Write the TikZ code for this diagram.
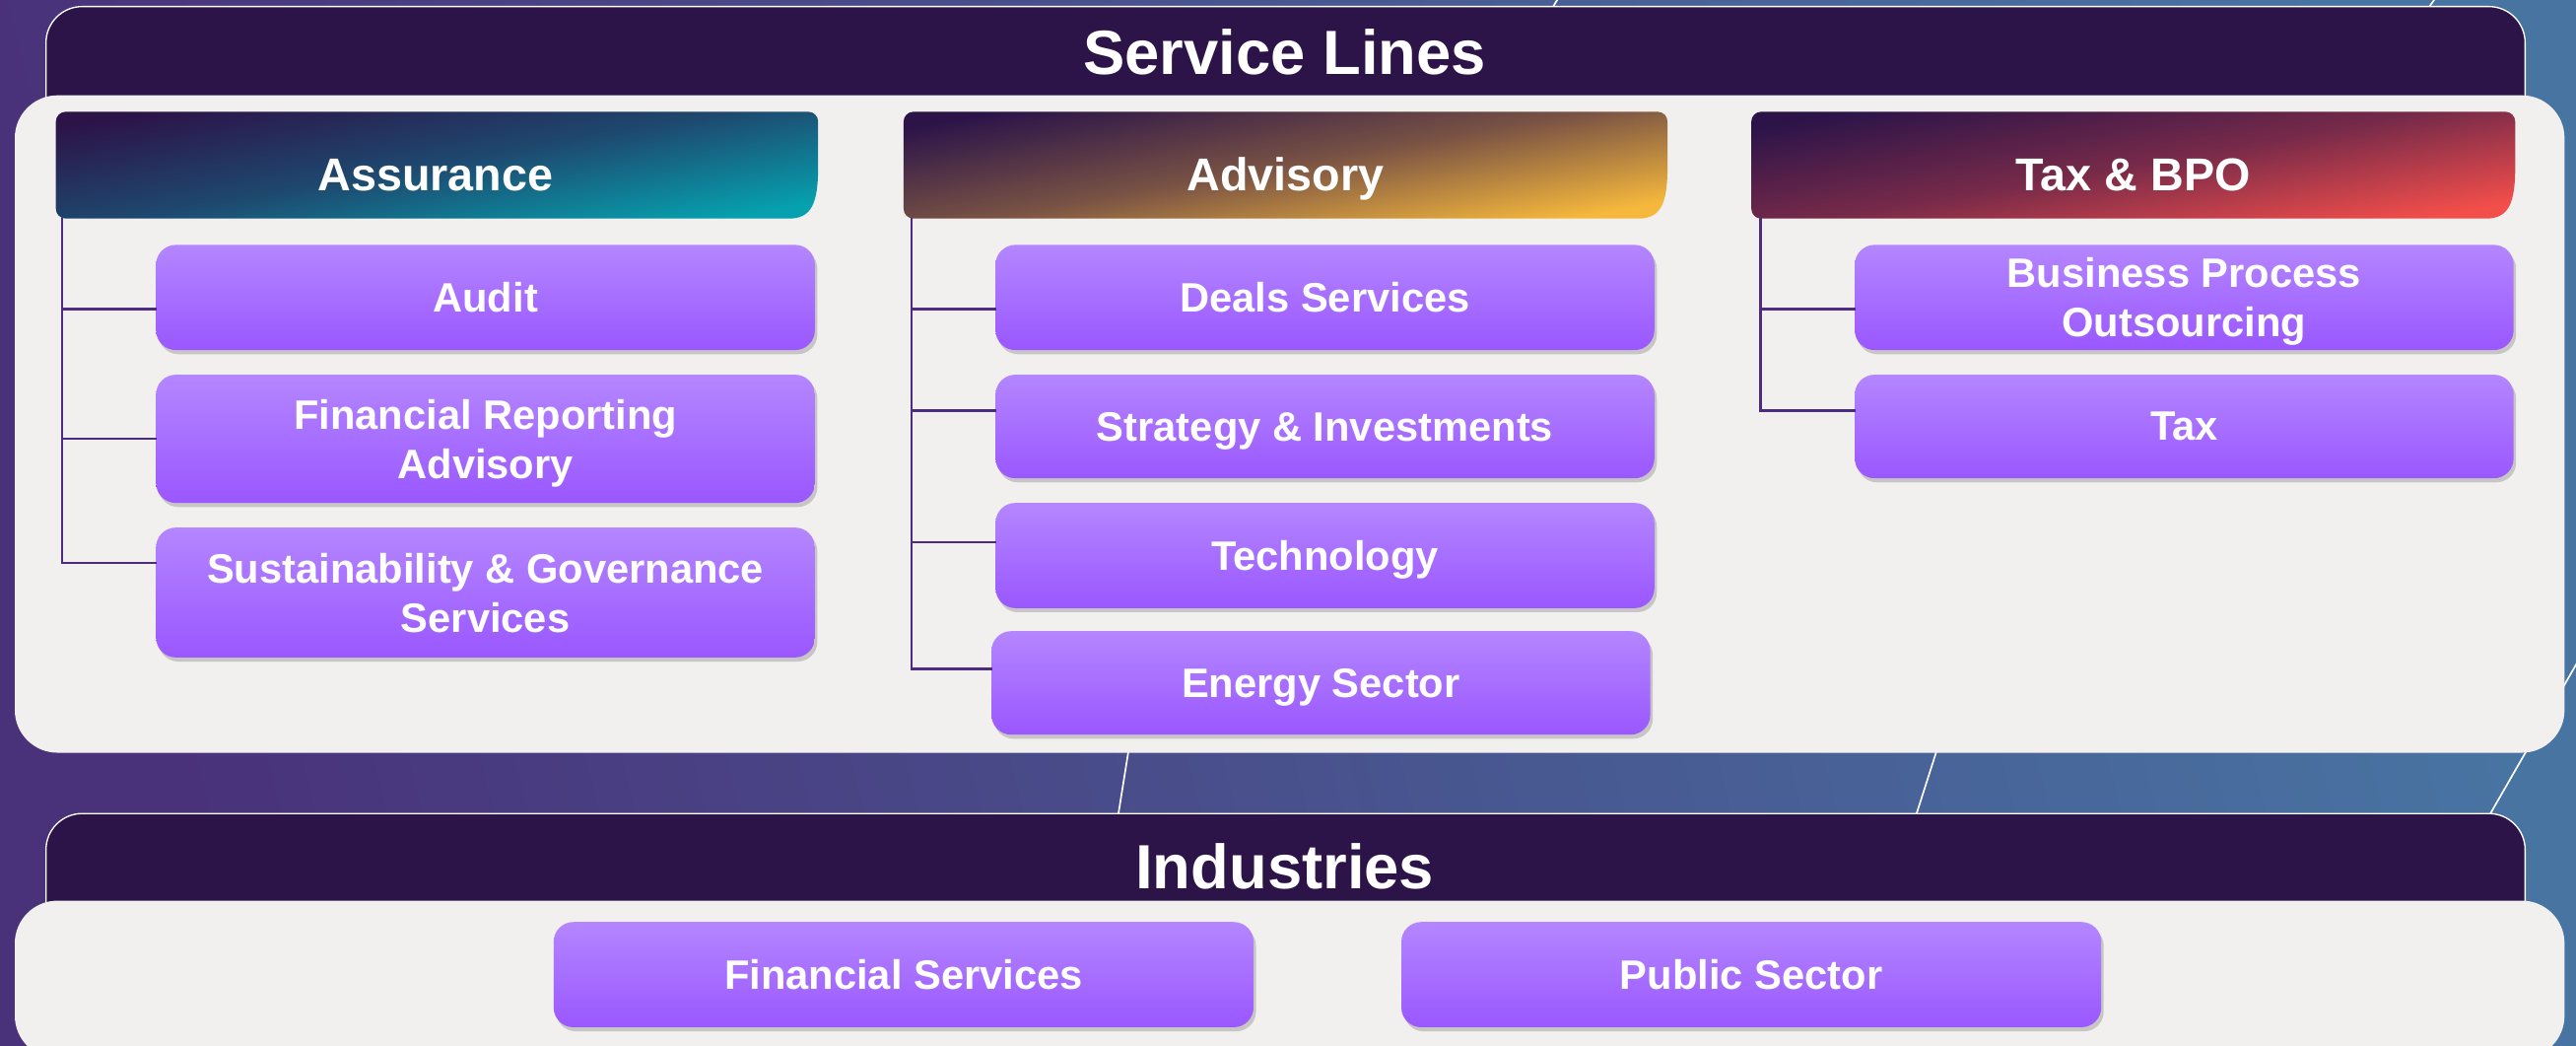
\documentclass[tikz,border=0pt]{standalone}
\usepackage{fontspec}
\setmainfont{Liberation Sans}
\usepackage{tikz}
\usetikzlibrary{shadows}

\begin{document}
\begin{tikzpicture}[x=1pt,y=-1pt,line cap=rect,
    barhead/.style={fill=col_plum, draw=white, line width=0.8pt, rounded corners=22pt},
    bartext/.style={inner sep=0, text=white, font=\fontsize{38}{46}\selectfont\bfseries},
    panel/.style={fill=col_panel, rounded corners=26pt},
    tabshade/.style={top color=col_plum, bottom color=#1, middle color=col_plum!62!#1, shading angle=10},
    tabhead/.style={inner sep=0, minimum width=464pt, minimum height=65pt, text=white,
        font=\fontsize{28}{34}\selectfont\bfseries, text height=31pt, text depth=0pt},
    svcbox/.style={rounded corners=12pt, top color=col_lilac, bottom color=col_violet,
        drop shadow={shadow xshift=1.5pt, shadow yshift=-2.5pt, opacity=0.3, fill=black!60},
        text=white, font=\fontsize{25}{30}\selectfont\bfseries, align=center, text depth=0pt,
        inner sep=0, minimum width=401pt, minimum height=64pt},
    branch/.style={draw=col_line, line width=1.6pt},
    deco/.style={draw=white, line width=1pt}]
				\definecolor{col_plum}{RGB}{44, 20, 73}
				\definecolor{col_panel}{RGB}{241, 240, 238}
				\definecolor{col_line}{RGB}{75, 44, 126}
				\definecolor{col_bgleft}{RGB}{73, 50, 122}
				\definecolor{col_bgright}{RGB}{72, 116, 162}
				\definecolor{col_teal}{RGB}{6, 160, 174}
				\definecolor{col_gold}{RGB}{246, 184, 60}
				\definecolor{col_red}{RGB}{242, 78, 74}
				\definecolor{col_lilac}{RGB}{180, 134, 255}
				\definecolor{col_violet}{RGB}{154, 87, 255}
				\useasboundingbox (0,0) rectangle (1568,636);
				\clip (0,0) rectangle (1568,636);
				% slide background
				\shade [left color=col_bgleft, right color=col_bgright, shading angle=104]  (0,0) rectangle (1568,636) ;
				\draw [deco]  (949,-2) -- (943,8) ;
				\draw [deco]  (1483,-2) -- (1476,8) ;
				\draw [deco]  (688,450) -- (680,500) ;
				\draw [deco]  (1181,450) -- (1165,500) ;
				\draw [deco]  (1574,394) -- (1513,500) ;
				% service lines container
				\draw [barhead]  (28,80) -- (28,4) -- (1537,4) -- (1537,80) -- cycle ;
				\fill [panel]  (9,58) rectangle (1561,458) ;
				\node [bartext] (svclines) at (782,32) {Service Lines};
				% column heads
				\shade [tabshade=col_teal]  (34,100) [rounded corners=6pt] -- (34,68) -- (498,68) -- (498,95) [sharp corners] .. controls (498,124) and (494,133) .. (480,133) [rounded corners=6pt] -- (34,133) -- cycle ;
				\shade [tabshade=col_gold]  (550,100) [rounded corners=6pt] -- (550,68) -- (1015,68) -- (1015,95) [sharp corners] .. controls (1015,124) and (1011,133) .. (997,133) [rounded corners=6pt] -- (550,133) -- cycle ;
				\shade [tabshade=col_red]  (1066,100) [rounded corners=6pt] -- (1066,68) -- (1531,68) -- (1531,95) [sharp corners] .. controls (1531,124) and (1527,133) .. (1513,133) [rounded corners=6pt] -- (1066,133) -- cycle ;
				\node [tabhead] (assur) at (265,100.5) {Assurance};
				\node [tabhead, minimum width=465pt] (advis) at (782.5,100.5) {Advisory};
				\node [tabhead, minimum width=465pt] (taxbpo) at (1298.5,100.5) {Tax \& BPO};
				% assurance
				\node [svcbox] (audit) at (295.5,181) {Audit};
				\node [svcbox, minimum height=78pt] (frarep) at (295.5,267) {Financial Reporting\\Advisory};
				\node [svcbox, minimum height=79pt] (sgserv) at (295.5,360.5) {Sustainability \& Governance\\Services};
				\draw [branch]  ([xshift=5pt]assur.south west) |- ([yshift=-7pt]audit.west) ;
				\draw [branch]  ([xshift=5pt]assur.south west) |- (frarep.west) ;
				\draw [branch]  ([xshift=5pt]assur.south west) |- ([yshift=18pt]sgserv.west) ;
				% advisory
				\node [svcbox] (deals) at (806.5,181) {Deals Services};
				\node [svcbox, minimum height=63pt] (strat) at (806.5,259.5) {Strategy \& Investments};
				\node [svcbox] (techno) at (806.5,338) {Technology};
				\node [svcbox, minimum height=63pt] (energy) at (804,415.5) {Energy Sector};
				\draw [branch]  ([xshift=5pt]advis.south west) |- ([yshift=-7pt]deals.west) ;
				\draw [branch]  ([xshift=5pt]advis.south west) |- ([yshift=9.5pt]strat.west) ;
				\draw [branch]  ([xshift=5pt]advis.south west) |- ([yshift=8pt]techno.west) ;
				\draw [branch]  ([xshift=5pt]advis.south west) |- ([yshift=8.5pt]energy.west) ;
				% tax & bpo
				\node [svcbox] (bpo) at (1329.5,181) {Business Process\\Outsourcing};
				\node [svcbox, minimum height=63pt] (tax) at (1329.5,259.5) {Tax};
				\draw [branch]  ([xshift=6pt]taxbpo.south west) |- ([yshift=-7pt]bpo.west) ;
				\draw [branch]  ([xshift=6pt]taxbpo.south west) |- ([yshift=9.5pt]tax.west) ;
				% industries container
				\draw [barhead]  (28,570) -- (28,495) -- (1537,495) -- (1537,570) -- cycle ;
				\fill [panel]  (9,548) rectangle (1561,644) ;
				\node [bartext] (indus) at (782,527) {Industries};
				\node [svcbox, minimum width=426pt] (finserv) at (550,593) {Financial Services};
				\node [svcbox, minimum width=426pt] (pubsec) at (1066,593) {Public Sector};
			\end{tikzpicture}
\end{document}
